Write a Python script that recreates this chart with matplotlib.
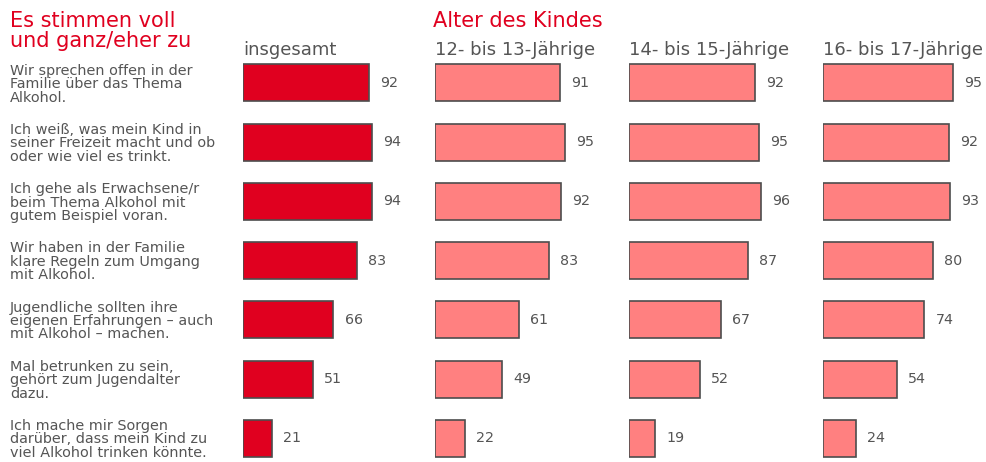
import matplotlib.pyplot as plt
import matplotlib.transforms as mtransforms

statements = [
    "Wir sprechen offen in der\nFamilie über das Thema\nAlkohol.",
    "Ich weiß, was mein Kind in\nseiner Freizeit macht und ob\noder wie viel es trinkt.",
    "Ich gehe als Erwachsene/r\nbeim Thema Alkohol mit\ngutem Beispiel voran.",
    "Wir haben in der Familie\nklare Regeln zum Umgang\nmit Alkohol.",
    "Jugendliche sollten ihre\neigenen Erfahrungen – auch\nmit Alkohol – machen.",
    "Mal betrunken zu sein,\ngehört zum Jugendalter\ndazu.",
    "Ich mache mir Sorgen\ndarüber, dass mein Kind zu\nviel Alkohol trinken könnte.",
]
groups = ["insgesamt", "12- bis 13-Jährige", "14- bis 15-Jährige", "16- bis 17-Jährige"]
insgesamt = [92, 94, 94, 83, 66, 51, 21]
age_12_13 = [91, 95, 92, 83, 61, 49, 22]
age_14_15 = [92, 95, 96, 87, 67, 52, 19]
age_16_17 = [95, 92, 93, 80, 74, 54, 24]
series = [insgesamt, age_12_13, age_14_15, age_16_17]

W, H = 987, 462
red = "#e0001f"
pink = "#ff8080"
grey = "#555555"
edge = "#4d4d4d"

fig = plt.figure(figsize=(W / 100, H / 100), dpi=100)

px_per_unit = 1.37
starts = [243, 435, 629, 823]
ax_w = 165
top_px, bot_px = 60, 460
row0, pitch = 83, 59.2
y_top = (top_px - row0) / pitch
y_bot = (bot_px - row0) / pitch
rows = list(range(len(statements)))

axes = []
for i, (x0, vals, name) in enumerate(zip(starts, series, groups)):
    ax = fig.add_axes([x0 / W, 1 - bot_px / H, ax_w / W, (bot_px - top_px) / H])
    ax.barh(rows, vals, height=37 / pitch, color=red if i == 0 else pink,
            edgecolor=edge, linewidth=1.2)
    ax.set_xlim(0, ax_w / px_per_unit)
    ax.set_ylim(y_bot, y_top)
    ax.axis("off")
    for r, v in zip(rows, vals):
        ax.annotate(str(v), (v, r), xytext=(8, 0), textcoords="offset points",
                    ha="left", va="center", fontsize=10.3, color=grey)
    fig.text(x0 / W, 1 - 50 / H, name, ha="left", va="center", fontsize=13, color=grey)
    axes.append(ax)

trans = mtransforms.blended_transform_factory(fig.transFigure, axes[0].transData)
for r, s in zip(rows, statements):
    fig.text(10 / W, r + 0.02, s, transform=trans, ha="left", va="center",
             fontsize=10.4, color=grey, linespacing=0.95)

fig.text(10 / W, 1 - 11 / H, "Es stimmen voll\nund ganz/eher zu", ha="left", va="top",
         fontsize=15, color=red, linespacing=1.0)
fig.text(433 / W, 1 - 11 / H, "Alter des Kindes", ha="left", va="top",
         fontsize=15, color=red)

fig.savefig("out.png", dpi=100)
